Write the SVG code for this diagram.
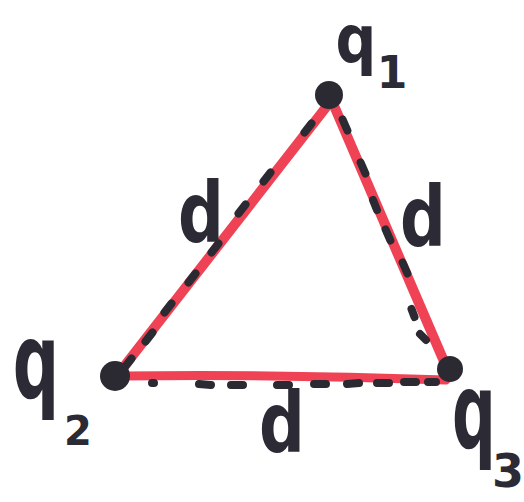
<svg xmlns="http://www.w3.org/2000/svg" width="524" height="502" viewBox="0 0 524 502">
<style>
.edge{fill:none;stroke:#ee3347;stroke-linecap:round;stroke-opacity:0.92}
.dash{fill:none;stroke:#2b2a33;stroke-width:8;stroke-linecap:round}
.dot{fill:#2b2a33}
.lbl{font-family:"DejaVu Sans","Liberation Sans",sans-serif;font-weight:bold;fill:#2b2a35}
</style>
<rect width="524" height="502" fill="#ffffff"/>
<g id="connectors">
<line class="edge" x1="327" y1="106" x2="119" y2="373" stroke-width="10"/>
<line class="edge" x1="335" y1="108" x2="446" y2="366" stroke-width="10"/>
<path class="edge" d="M119 376 Q280 374 446 380" stroke-width="9"/>
<path class="dash" d="M311.5 123.5 L304.5 132.5 M270.5 172.5 L263.5 181.5 M245.5 204.5 L238.5 213.5 M218.5 243.5 L211.5 252.5 M195.5 273.5 L188.5 282.5 M171.5 303.5 L164.5 312.5 M152.5 332.5 L145.5 341.5 M131.5 358.5 L124.5 367.5"/>
<path class="dash" d="M342.6 119.5 L347.4 130.5 M360.6 162.5 L365.4 173.5 M373 200 L377 210 M385.6 229.5 L390.4 240.5 M402.6 262.5 L407.4 273.5 M411.5 309 L414.5 317 M420 334 L426 340"/>
<path class="dash" d="M152 383 L154 383 M199 384 L211 385 M231 385 L243 385 M277 385 L289 385 M314 384 L326 384 M347 384 L359 383 M377 383 L389 383 M404 382 L416 382 M428 382 L436 382"/>
</g>
<g id="node-q1">
<circle class="dot" cx="329" cy="95" r="14"/>
<text class="lbl" font-size="60" text-anchor="middle" transform="translate(356,62) scale(0.95,1.1)">q</text>
<text class="lbl" font-size="44" text-anchor="middle" x="392" y="88">1</text>
</g>
<g id="node-q2">
<circle class="dot" cx="115" cy="376" r="15"/>
<text class="lbl" font-size="72" text-anchor="middle" transform="translate(36,398) scale(0.9,1.45)">q</text>
<text class="lbl" font-size="40" text-anchor="middle" x="78" y="445">2</text>
</g>
<g id="node-q3">
<circle class="dot" cx="450" cy="369" r="13"/>
<text class="lbl" font-size="72" text-anchor="middle" transform="translate(474,448) scale(0.85,1.45)">q</text>
<text class="lbl" font-size="46" text-anchor="middle" x="508" y="487">3</text>
</g>
<g id="labels">
<text class="lbl" font-size="80" text-anchor="middle" transform="translate(201,242) scale(0.8,1.05)">d</text>
<text class="lbl" font-size="80" text-anchor="middle" transform="translate(423,246) scale(0.8,1.05)">d</text>
<text class="lbl" font-size="80" text-anchor="middle" transform="translate(282,452) scale(0.8,1.05)">d</text>
</g>
</svg>
